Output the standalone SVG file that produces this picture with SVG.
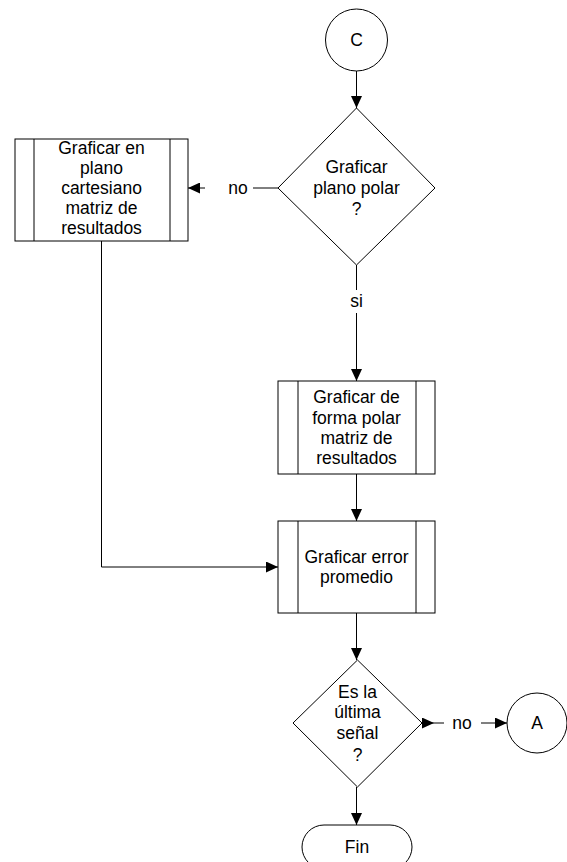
<svg xmlns="http://www.w3.org/2000/svg" width="567" height="862" viewBox="0 0 567 862">
<style>
.s{fill:#fff;stroke:#000;stroke-width:1}
.in{fill:none;stroke:#000;stroke-width:1}
.c{fill:none;stroke:#000;stroke-width:1}
text{font-family:"Liberation Sans",Arial,sans-serif;font-size:17.5px;fill:#000;text-anchor:middle}
</style>
<defs>
<marker id="ah" markerUnits="userSpaceOnUse" markerWidth="12" markerHeight="11" refX="12" refY="5.5" orient="auto">
<path d="M0,0 L12,5.5 L0,11 z" fill="#000"/>
</marker>
</defs>
<rect width="567" height="862" fill="#fff"/>
<g id="connectors">
<path class="c" d="M356.5,71 L356.5,108" marker-end="url(#ah)"/>
<path class="c" d="M278,188 L253,188"/>
<path class="c" d="M205,188 L188,188" marker-end="url(#ah)"/>
<path class="c" d="M356.5,265 L356.5,290"/>
<path class="c" d="M356.5,313 L356.5,381" marker-end="url(#ah)"/>
<path class="c" d="M356.5,474 L356.5,521" marker-end="url(#ah)"/>
<path class="c" d="M101.5,241 L101.5,567 L278,567" marker-end="url(#ah)"/>
<path class="c" d="M356.5,613 L356.5,660" marker-end="url(#ah)"/>
<path class="c" d="M422,723 L434,723" marker-end="url(#ah)"/>
<path class="c" d="M434,723 L444,723"/>
<path class="c" d="M481,723 L507,723" marker-end="url(#ah)"/>
<path class="c" d="M356.5,787 L356.5,825" marker-end="url(#ah)"/>
<text x="238" y="194">no</text>
<text x="356.5" y="307">si</text>
<text x="462" y="729">no</text>
</g>
<g id="nodeC">
<circle class="s" cx="356.5" cy="40" r="31"/>
<text x="356.5" y="46">C</text>
</g>
<g id="decision1">
<polygon class="s" points="356.5,108 435,188 356.5,265 278,188"/>
<text x="356.5" y="173">Graficar</text>
<text x="356.5" y="194">plano polar</text>
<text x="356.5" y="215">?</text>
</g>
<g id="process1">
<rect class="s" x="15" y="139" width="173" height="102"/>
<path class="in" d="M34,139 L34,241 M170,139 L170,241"/>
<text x="101.5" y="154">Graficar en</text>
<text x="101.5" y="174">plano</text>
<text x="101.5" y="194">cartesiano</text>
<text x="101.5" y="214">matriz de</text>
<text x="101.5" y="234">resultados</text>
</g>
<g id="process2">
<rect class="s" x="278" y="381" width="157" height="93"/>
<path class="in" d="M298,381 L298,474 M416,381 L416,474"/>
<text x="356.5" y="403">Graficar de</text>
<text x="356.5" y="424">forma polar</text>
<text x="356.5" y="444">matriz de</text>
<text x="356.5" y="464">resultados</text>
</g>
<g id="process3">
<rect class="s" x="278" y="521" width="157" height="92"/>
<path class="in" d="M298,521 L298,613 M416,521 L416,613"/>
<text x="356.5" y="563">Graficar error</text>
<text x="356.5" y="583">promedio</text>
</g>
<g id="decision2">
<polygon class="s" points="357.5,660 422,723 357.5,787 293,723"/>
<text x="357.5" y="698">Es la</text>
<text x="357.5" y="718">última</text>
<text x="357.5" y="739">señal</text>
<text x="357.5" y="761">?</text>
</g>
<g id="nodeA">
<circle class="s" cx="537" cy="723" r="30"/>
<text x="537" y="729">A</text>
</g>
<g id="fin">
<rect class="s" x="302" y="825" width="110" height="44" rx="22" ry="22"/>
<text x="357" y="853">Fin</text>
</g>
</svg>
